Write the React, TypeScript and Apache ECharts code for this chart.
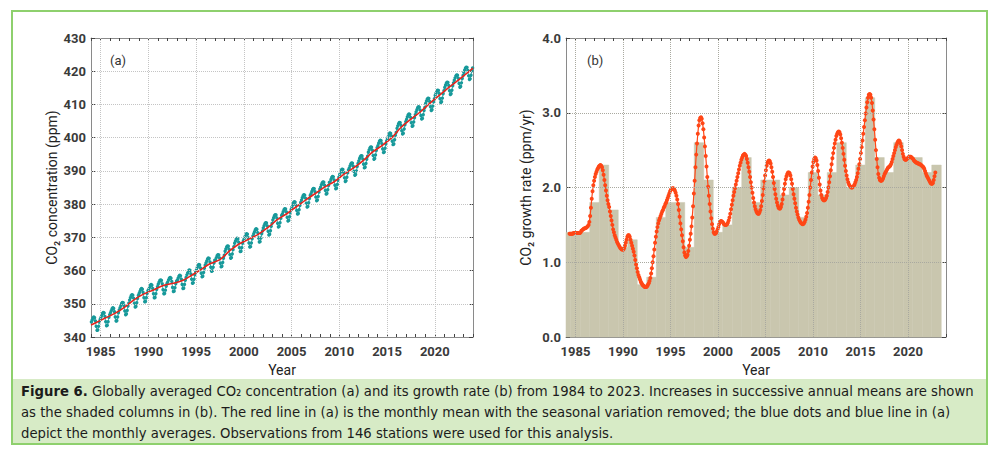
import React, { useEffect, useRef } from "react";
import * as echarts from "echarts";

// ---------- data ----------
const YEAR_TICKS = [1985, 1990, 1995, 2000, 2005, 2010, 2015, 2020];
const PPM_GRID = [350, 360, 370, 380, 390, 400, 410, 420];
const RATE_GRID = [1, 2, 3];

// de-seasonalised trend (red line, panel a)
const TREND_YEARS = [
  1984, 1984.5, 1985.5, 1986.5, 1987.5, 1988.5, 1989.5, 1990.5, 1991.5, 1992.5, 1993.5,
  1994.5, 1995.5, 1996.5, 1997.5, 1998.5, 1999.5, 2000.5, 2001.5, 2002.5, 2003.5,
  2004.5, 2005.5, 2006.5, 2007.5, 2008.5, 2009.5, 2010.5, 2011.5, 2012.5, 2013.5,
  2014.5, 2015.5, 2016.5, 2017.5, 2018.5, 2019.5, 2020.5, 2021.5, 2022.5, 2023.5, 2024,
];
const TREND_PPM = [
  343.6, 344.3, 345.7, 347.1, 348.9, 351.2, 352.9, 354.1, 355.4, 356.1, 356.9,
  358.5, 360.3, 362.1, 363.3, 365.9, 368.0, 369.4, 370.9, 372.9, 375.3,
  377.1, 379.2, 381.3, 383.2, 385.2, 386.8, 389.0, 390.9, 393.1, 395.7,
  397.7, 400.0, 403.2, 405.6, 407.8, 410.4, 412.8, 415.2, 417.4, 419.7, 420.9,
];

// monthly means (blue dots, panel a), Jan 1984 .. Dec 2023
const MONTHLY_PPM = [
  344.5, 345.1, 345.7, 346.0, 345.8, 344.8, 343.2, 342.0, 342.1, 343.2, 344.5, 345.3,
  345.9, 346.5, 347.1, 347.4, 347.2, 346.2, 344.6, 343.4, 343.5, 344.6, 345.9, 346.7,
  347.3, 347.9, 348.5, 348.8, 348.6, 347.6, 346.0, 344.8, 344.9, 346.0, 347.3, 348.1,
  348.8, 349.5, 350.1, 350.4, 350.3, 349.4, 347.8, 346.7, 346.9, 348.0, 349.3, 350.2,
  351.1, 351.8, 352.4, 352.7, 352.6, 351.7, 350.1, 349.0, 349.2, 350.3, 351.6, 352.5,
  353.1, 353.7, 354.3, 354.6, 354.4, 353.4, 351.8, 350.6, 350.7, 351.8, 353.1, 353.9,
  354.3, 354.9, 355.5, 355.8, 355.6, 354.6, 353.0, 351.8, 351.9, 353.0, 354.3, 355.1,
  355.9, 356.5, 357.0, 357.2, 357.0, 356.0, 354.2, 353.0, 353.1, 354.1, 355.3, 356.1,
  356.6, 357.2, 357.7, 357.9, 357.7, 356.7, 354.9, 353.7, 353.8, 354.8, 356.0, 356.8,
  357.1, 357.7, 358.3, 358.6, 358.4, 357.4, 355.8, 354.6, 354.7, 355.8, 357.1, 357.9,
  358.7, 359.3, 359.9, 360.2, 360.0, 359.0, 357.4, 356.2, 356.3, 357.4, 358.7, 359.5,
  360.2, 360.9, 361.5, 361.8, 361.7, 360.8, 359.2, 358.1, 358.3, 359.4, 360.7, 361.6,
  362.3, 362.9, 363.5, 363.8, 363.6, 362.6, 361.0, 359.8, 359.9, 361.0, 362.3, 363.1,
  363.2, 363.9, 364.5, 364.8, 364.7, 363.8, 362.2, 361.1, 361.3, 362.4, 363.7, 364.6,
  365.8, 366.5, 367.1, 367.4, 367.3, 366.4, 364.8, 363.7, 363.9, 365.0, 366.3, 367.2,
  368.2, 368.8, 369.4, 369.7, 369.5, 368.5, 366.9, 365.7, 365.8, 366.9, 368.2, 369.0,
  369.6, 370.2, 370.8, 371.1, 370.9, 369.9, 368.3, 367.1, 367.2, 368.3, 369.6, 370.4,
  371.1, 371.7, 372.3, 372.6, 372.4, 371.4, 369.8, 368.6, 368.7, 369.8, 371.1, 371.9,
  372.8, 373.5, 374.1, 374.4, 374.3, 373.4, 371.8, 370.7, 370.9, 372.0, 373.3, 374.2,
  375.2, 375.9, 376.5, 376.8, 376.7, 375.8, 374.2, 373.1, 373.3, 374.4, 375.7, 376.6,
  377.0, 377.7, 378.3, 378.6, 378.5, 377.6, 376.0, 374.9, 375.1, 376.2, 377.5, 378.4,
  379.1, 379.8, 380.4, 380.7, 380.6, 379.7, 378.1, 377.0, 377.2, 378.3, 379.6, 380.5,
  381.2, 381.9, 382.5, 382.8, 382.7, 381.8, 380.2, 379.1, 379.3, 380.4, 381.7, 382.6,
  383.1, 383.8, 384.4, 384.7, 384.6, 383.7, 382.1, 381.0, 381.2, 382.3, 383.6, 384.5,
  385.1, 385.8, 386.4, 386.7, 386.6, 385.7, 384.1, 383.0, 383.2, 384.3, 385.6, 386.5,
  386.7, 387.4, 388.0, 388.3, 388.2, 387.3, 385.7, 384.6, 384.8, 385.9, 387.2, 388.1,
  388.9, 389.6, 390.2, 390.5, 390.4, 389.5, 387.9, 386.8, 387.0, 388.1, 389.4, 390.3,
  390.8, 391.5, 392.1, 392.4, 392.3, 391.4, 389.8, 388.7, 388.9, 390.0, 391.3, 392.2,
  393.0, 393.7, 394.3, 394.6, 394.5, 393.6, 392.0, 390.9, 391.1, 392.2, 393.5, 394.4,
  395.6, 396.3, 396.9, 397.2, 397.1, 396.2, 394.6, 393.5, 393.7, 394.8, 396.1, 397.0,
  397.6, 398.3, 398.9, 399.2, 399.1, 398.2, 396.6, 395.5, 395.7, 396.8, 398.1, 399.0,
  399.6, 400.3, 401.0, 401.4, 401.3, 400.5, 398.9, 397.9, 398.1, 399.4, 400.7, 401.6,
  402.8, 403.5, 404.2, 404.6, 404.5, 403.7, 402.1, 401.1, 401.3, 402.6, 403.9, 404.8,
  405.5, 406.2, 406.8, 407.1, 407.0, 406.1, 404.5, 403.4, 403.6, 404.7, 406.0, 406.9,
  407.7, 408.4, 409.0, 409.3, 409.2, 408.3, 406.7, 405.6, 405.8, 406.9, 408.2, 409.1,
  410.3, 411.0, 411.6, 411.9, 411.8, 410.9, 409.3, 408.2, 408.4, 409.5, 410.8, 411.7,
  412.7, 413.4, 414.0, 414.3, 414.2, 413.3, 411.7, 410.6, 410.8, 411.9, 413.2, 414.1,
  415.1, 415.8, 416.4, 416.7, 416.6, 415.7, 414.1, 413.0, 413.2, 414.3, 415.6, 416.5,
  417.3, 418.0, 418.6, 418.9, 418.8, 417.9, 416.3, 415.2, 415.4, 416.5, 417.8, 418.7,
  419.6, 420.3, 420.9, 421.2, 421.1, 420.2, 418.6, 417.5, 417.7, 418.8, 420.1, 421.0,
];
const MONTHLY_START_YEAR = 1984;

// annual increases (shaded columns, panel b)
const BAR_YEARS = [
  1984, 1985, 1986, 1987, 1988, 1989, 1990, 1991, 1992, 1993, 1994, 1995, 1996, 1997,
  1998, 1999, 2000, 2001, 2002, 2003, 2004, 2005, 2006, 2007, 2008, 2009, 2010, 2011,
  2012, 2013, 2014, 2015, 2016, 2017, 2018, 2019, 2020, 2021, 2022, 2023,
];
const ANNUAL_GROWTH = [
  1.4, 1.4, 1.4, 1.8, 2.3, 1.7, 1.2, 1.3, 0.7, 0.8, 1.6, 1.8, 1.8, 1.2,
  2.6, 2.1, 1.4, 1.5, 2.0, 2.4, 1.8, 2.1, 2.1, 1.9, 2.0, 1.6, 2.2, 1.9,
  2.2, 2.6, 2.0, 2.3, 3.2, 2.4, 2.2, 2.6, 2.4, 2.4, 2.2, 2.3,
];

// monthly growth rate (red dotted line, panel b), May 1984 .. Nov 2022
const GROWTH_START_MONTH = 4; // May 1984 (0-based month)
const MONTHLY_GROWTH = [
  1.38, 1.38, 1.38, 1.38, 1.38, 1.39, 1.39, 1.39,
  1.39, 1.39, 1.39, 1.39, 1.39, 1.39, 1.40, 1.42, 1.43, 1.44, 1.45, 1.45,
  1.46, 1.46, 1.47, 1.48, 1.50, 1.54, 1.62, 1.73, 1.85, 1.95, 2.03, 2.09,
  2.14, 2.18, 2.21, 2.24, 2.26, 2.28, 2.29, 2.30, 2.29, 2.27, 2.23, 2.17,
  2.10, 2.03, 1.96, 1.89, 1.83, 1.78, 1.74, 1.68, 1.62, 1.56, 1.50, 1.44,
  1.40, 1.36, 1.33, 1.30, 1.27, 1.25, 1.23, 1.21, 1.19, 1.18, 1.17, 1.17,
  1.17, 1.19, 1.22, 1.26, 1.30, 1.34, 1.36, 1.36, 1.34, 1.30, 1.26, 1.22,
  1.18, 1.14, 1.09, 1.03, 0.97, 0.92, 0.87, 0.83, 0.80, 0.77, 0.74, 0.72,
  0.70, 0.69, 0.68, 0.67, 0.67, 0.67, 0.68, 0.70, 0.72, 0.75, 0.79, 0.85,
  0.92, 1.00, 1.08, 1.17, 1.26, 1.34, 1.41, 1.47, 1.52, 1.56, 1.59, 1.62,
  1.65, 1.68, 1.70, 1.73, 1.75, 1.78, 1.80, 1.83, 1.86, 1.89, 1.92, 1.95,
  1.97, 1.98, 1.99, 1.99, 1.98, 1.96, 1.93, 1.89, 1.84, 1.78, 1.70, 1.61,
  1.52, 1.44, 1.36, 1.28, 1.20, 1.13, 1.09, 1.07, 1.08, 1.10, 1.15, 1.22,
  1.30, 1.38, 1.48, 1.60, 1.75, 1.92, 2.09, 2.27, 2.44, 2.59, 2.72, 2.83,
  2.90, 2.93, 2.94, 2.92, 2.86, 2.78, 2.67, 2.55, 2.42, 2.28, 2.14, 2.01,
  1.89, 1.78, 1.68, 1.59, 1.51, 1.45, 1.40, 1.38, 1.38, 1.39, 1.41, 1.44,
  1.47, 1.51, 1.54, 1.55, 1.55, 1.54, 1.53, 1.51, 1.50, 1.50, 1.50, 1.51,
  1.53, 1.56, 1.60, 1.65, 1.71, 1.77, 1.83, 1.89, 1.94, 1.99, 2.04, 2.09,
  2.14, 2.19, 2.24, 2.29, 2.33, 2.37, 2.40, 2.43, 2.44, 2.45, 2.44, 2.42,
  2.38, 2.33, 2.27, 2.21, 2.14, 2.07, 2.00, 1.93, 1.86, 1.80, 1.75, 1.71,
  1.68, 1.66, 1.65, 1.65, 1.67, 1.70, 1.75, 1.82, 1.90, 1.99, 2.08, 2.16,
  2.23, 2.29, 2.33, 2.35, 2.36, 2.35, 2.32, 2.27, 2.21, 2.14, 2.06, 1.98,
  1.91, 1.85, 1.80, 1.76, 1.73, 1.72, 1.72, 1.74, 1.78, 1.84, 1.91, 1.98,
  2.05, 2.11, 2.15, 2.18, 2.20, 2.20, 2.19, 2.16, 2.11, 2.05, 1.98, 1.91,
  1.85, 1.79, 1.73, 1.68, 1.64, 1.60, 1.57, 1.55, 1.53, 1.52, 1.51, 1.51,
  1.52, 1.54, 1.57, 1.61, 1.66, 1.73, 1.81, 1.90, 2.00, 2.10, 2.20, 2.28,
  2.34, 2.38, 2.40, 2.39, 2.36, 2.30, 2.22, 2.13, 2.04, 1.96, 1.90, 1.86,
  1.84, 1.83, 1.83, 1.84, 1.86, 1.89, 1.94, 2.00, 2.07, 2.15, 2.23, 2.31,
  2.39, 2.46, 2.53, 2.59, 2.64, 2.69, 2.72, 2.74, 2.75, 2.74, 2.71, 2.66,
  2.60, 2.53, 2.45, 2.37, 2.29, 2.22, 2.16, 2.11, 2.07, 2.04, 2.02, 2.01,
  2.00, 2.00, 2.01, 2.02, 2.04, 2.07, 2.10, 2.14, 2.19, 2.25, 2.31, 2.38,
  2.46, 2.54, 2.63, 2.72, 2.81, 2.90, 2.99, 3.07, 3.14, 3.20, 3.24, 3.25,
  3.24, 3.20, 3.13, 3.03, 2.91, 2.78, 2.64, 2.50, 2.38, 2.27, 2.18, 2.13,
  2.10, 2.09, 2.09, 2.10, 2.12, 2.15, 2.18, 2.20, 2.22, 2.24, 2.26, 2.27,
  2.28, 2.29, 2.31, 2.34, 2.38, 2.42, 2.46, 2.50, 2.54, 2.57, 2.60, 2.62,
  2.63, 2.62, 2.59, 2.55, 2.50, 2.45, 2.41, 2.38, 2.37, 2.37, 2.38, 2.39,
  2.40, 2.41, 2.41, 2.41, 2.40, 2.39, 2.38, 2.36, 2.35, 2.34, 2.33, 2.33,
  2.32, 2.32, 2.31, 2.31, 2.30, 2.29, 2.28, 2.27, 2.25, 2.22, 2.19, 2.16,
  2.14, 2.12, 2.10, 2.08, 2.06, 2.05, 2.05, 2.06, 2.10, 2.15, 2.20,
];

const CAPTION_LINES = [
  "{b|Figure 6.} Globally averaged CO₂ concentration (a) and its growth rate (b) from 1984 to 2023. Increases in successive annual means are shown",
  "as the shaded columns in (b). The red line in (a) is the monthly mean with the seasonal variation removed; the blue dots and blue line in (a)",
  "depict the monthly averages. Observations from 146 stations were used for this analysis.",
];

// ---------- styles ----------
const FONT = "Roboto, 'DejaVu Sans', sans-serif";
const CAPTION_FONT = "'Liberation Sans Narrow', 'DejaVu Sans Condensed', Roboto, sans-serif";
const AXIS_COLOR = "#8a8a8a";
const TICK_COLOR = "#444";
const LABEL_STYLE = { fontFamily: FONT, fontSize: 13, fontWeight: "bold", color: "#3a3a3a" };
const NAME_STYLE = { fontFamily: FONT, fontSize: 14, color: "#222" };
const TEAL = "#17999a";
const RED = "#e8231c";
const ORANGE = "#ff4616";
const BAR_COLOR = "#c9c6ae";
const CAPTION_SIZE = 14.7;

function makeXAxes(gridIndex: number) {
  const common = {
    type: "value",
    gridIndex,
    min: 1984,
    max: 2024,
    interval: 1,
    splitLine: { show: false },
    axisLine: { show: true, onZero: false, lineStyle: { color: AXIS_COLOR, width: 1 } },
    axisTick: { show: true, inside: true, length: 3, lineStyle: { color: TICK_COLOR, width: 1 } },
  };
  return [
    {
      ...common,
      position: "bottom",
      axisLabel: {
        ...LABEL_STYLE,
        margin: 8,
        formatter: (v: number) => (Math.round(v) % 5 === 0 ? String(Math.round(v)) : ""),
      },
      name: "Year",
      nameLocation: "middle",
      nameGap: 26,
      nameTextStyle: NAME_STYLE,
    },
    { ...common, position: "top", axisLabel: { show: false } },
  ];
}

function makeYAxes(gridIndex: number, min: number, max: number, interval: number, name: string, fmt: (v: number) => string, nameGap: number) {
  const common = {
    type: "value",
    gridIndex,
    min,
    max,
    interval,
    splitLine: { show: false },
    axisLine: { show: true, onZero: false, lineStyle: { color: AXIS_COLOR, width: 1 } },
    axisTick: { show: true, inside: true, length: 4, lineStyle: { color: TICK_COLOR, width: 1 } },
  };
  return [
    {
      ...common,
      position: "left",
      axisLabel: { ...LABEL_STYLE, margin: 5, formatter: fmt },
      name,
      nameLocation: "middle",
      nameGap,
      nameTextStyle: NAME_STYLE,
    },
    { ...common, position: "right", axisLabel: { show: false } },
  ];
}

function gridSeries(xAxisIndex: number, yAxisIndex: number, xs: number[], ys: number[], color: string, z: number) {
  return {
    type: "line",
    xAxisIndex,
    yAxisIndex,
    data: [],
    z,
    silent: true,
    markLine: {
      silent: true,
      symbol: ["none", "none"],
      label: { show: false },
      animation: false,
      lineStyle: { type: "dotted", color, width: 1 },
      emphasis: { disabled: true },
      data: [...xs.map((x) => ({ xAxis: x })), ...ys.map((y) => ({ yAxis: y }))],
    },
  };
}

export default function App() {
  const ref = useRef<HTMLDivElement>(null);

  useEffect(() => {
    if (!ref.current) return;
    const chart = echarts.init(ref.current, null, { renderer: "svg" });

    const trendData = TREND_YEARS.map((x, i) => [x, TREND_PPM[i]]);
    const monthlyData = MONTHLY_PPM.map((v, i) => [MONTHLY_START_YEAR + (i + 0.5) / 12, v]);
    const barData = BAR_YEARS.map((y, i) => [y, ANNUAL_GROWTH[i]]);
    const growthData = MONTHLY_GROWTH.map((v, i) => [1984 + (GROWTH_START_MONTH + i + 0.5) / 12, v]);

    const option = {
      animation: false,
      backgroundColor: "#ffffff",
      grid: [
        { left: 91, top: 38, width: 382, height: 299, containLabel: false },
        { left: 566, top: 38, width: 380, height: 299, containLabel: false },
      ],
      xAxis: [...makeXAxes(0), ...makeXAxes(1)],
      yAxis: [
        ...makeYAxes(0, 340, 430, 10, "CO₂ concentration (ppm)", (v) => String(v), 32),
        ...makeYAxes(1, 0, 4, 1, "CO₂ growth rate (ppm/yr)", (v) => v.toFixed(1), 33),
      ],
      series: [
        gridSeries(0, 0, YEAR_TICKS, PPM_GRID, "#c4c4c4", 1),
        {
          type: "line",
          name: "monthly",
          xAxisIndex: 0,
          yAxisIndex: 0,
          data: monthlyData,
          z: 2,
          symbol: "circle",
          symbolSize: 3.4,
          showAllSymbol: true,
          itemStyle: { color: TEAL },
          lineStyle: { color: TEAL, width: 0.8 },
          silent: true,
        },
        {
          type: "line",
          name: "trend",
          xAxisIndex: 0,
          yAxisIndex: 0,
          data: trendData,
          z: 3,
          smooth: 0.3,
          showSymbol: false,
          lineStyle: { color: RED, width: 1.6 },
          silent: true,
        },
        {
          type: "custom",
          name: "annual",
          xAxisIndex: 2,
          yAxisIndex: 2,
          data: barData,
          z: 1,
          silent: true,
          renderItem: (params: any, api: any) => {
            const x = api.value(0);
            const v = api.value(1);
            const p0 = api.coord([x - 0.5, v]);
            const p1 = api.coord([x + 0.5, 0]);
            const cs = params.coordSys;
            const shape = echarts.graphic.clipRectByRect(
              { x: p0[0], y: p0[1], width: p1[0] - p0[0], height: p1[1] - p0[1] },
              { x: cs.x, y: cs.y, width: cs.width, height: cs.height }
            );
            if (!shape) return null;
            return {
              type: "rect",
              shape,
              style: { fill: BAR_COLOR, stroke: BAR_COLOR, lineWidth: 0.5 },
            };
          },
        },
        gridSeries(2, 2, YEAR_TICKS, RATE_GRID, "#a9a9a0", 2),
        {
          type: "line",
          name: "growth",
          xAxisIndex: 2,
          yAxisIndex: 2,
          data: growthData,
          z: 3,
          symbol: "circle",
          symbolSize: 4,
          showAllSymbol: true,
          itemStyle: { color: ORANGE },
          lineStyle: { color: ORANGE, width: 1.2 },
          silent: true,
        },
      ],
      graphic: [
        {
          type: "rect",
          shape: { x: 13, y: 379, width: 973, height: 64 },
          style: { fill: "#d7ebc6" },
          silent: true,
        },
        {
          type: "rect",
          shape: { x: 12, y: 11, width: 975, height: 433 },
          style: { fill: "none", stroke: "#8ed06d", lineWidth: 2 },
          silent: true,
        },
        {
          type: "text",
          x: 110,
          y: 60,
          style: { text: "(a)", fontFamily: FONT, fontSize: 13, fill: "#333", verticalAlign: "middle" },
          silent: true,
        },
        {
          type: "text",
          x: 587,
          y: 60,
          style: { text: "(b)", fontFamily: FONT, fontSize: 13, fill: "#333", verticalAlign: "middle" },
          silent: true,
        },
        {
          type: "text",
          x: 21,
          y: 380,
          style: {
            text: CAPTION_LINES.join("\n"),
            fontFamily: CAPTION_FONT,
            fontSize: CAPTION_SIZE,
            lineHeight: 21,
            fill: "#1c1c1c",
            rich: {
              b: { fontFamily: CAPTION_FONT, fontSize: CAPTION_SIZE, fontWeight: "bold", lineHeight: 21, fill: "#1c1c1c" },
            },
          },
          silent: true,
        },
      ],
    };

    chart.setOption(option as any);
    return () => chart.dispose();
  }, []);

  return (
    <div
      ref={ref}
      style={{ position: "absolute", left: 0, top: 0, width: 1000, height: 450 }}
    />
  );
}
